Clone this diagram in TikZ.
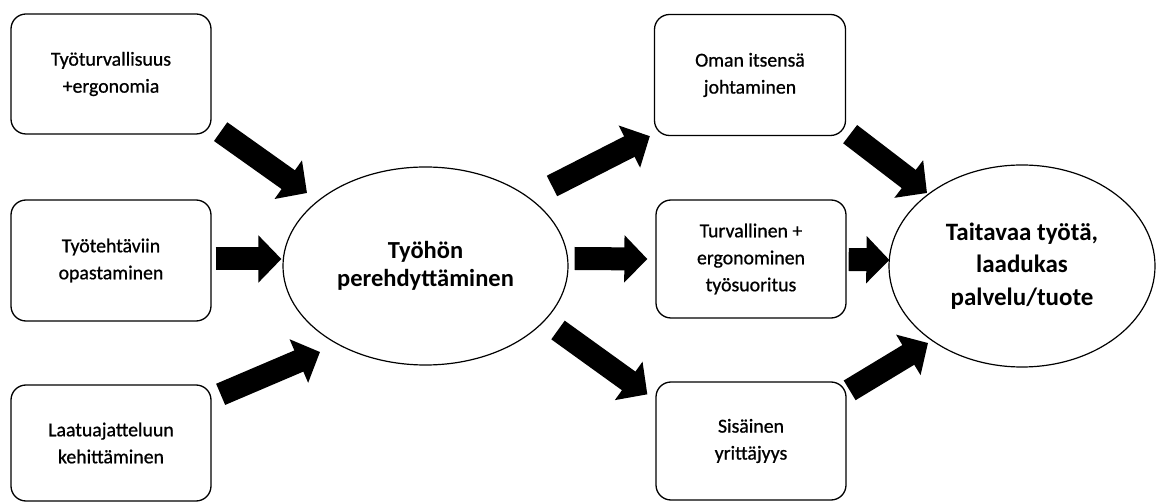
\documentclass[tikz,border=0pt]{standalone}
\usepackage{fontspec}
\setmainfont{Carlito}
\usetikzlibrary{arrows.meta,shapes.geometric,calc}
\begin{document}
\begin{tikzpicture}[x=1pt,y=-1pt,
  box/.style={draw, line width=1.3pt, rounded corners=15pt, align=center,
    inner sep=0pt, font=\fontsize{19.8}{27}\selectfont\addfontfeature{FakeBold=0.8}},
  oval/.style={draw, ellipse, line width=1.2pt, align=center, inner sep=0pt,
    font=\bfseries\fontsize{24.5}{28}\selectfont},
  blk/.style={line width=23pt, -{Triangle[width=46pt,length=23pt]}}]
\useasboundingbox (0,0) rectangle (1157,502);
\node[box, minimum width=200pt, minimum height=120pt] (b1) at (111,74) {Työturvallisuus\\+ergonomia};
\node[box, minimum width=200pt, minimum height=121pt] (b2) at (111,260.5) {Työtehtäviin\\opastaminen};
\node[box, minimum width=200pt, minimum height=116pt] (b3) at (111,443) {Laatuajatteluun\\kehittäminen};
\node[box, minimum width=191pt, minimum height=121pt] (o1) at (750,75) {Oman itsensä\\johtaminen};
\node[box, minimum width=190pt, minimum height=118pt] (o2) at (751,259) {Turvallinen +\\ergonominen\\työsuoritus};
\node[box, minimum width=190pt, minimum height=118pt] (o3) at (751,441) {Sisäinen\\yrittäjyys};
\node[oval, minimum width=285pt, minimum height=198pt] (e1) at (425.5,266) {Työhön\\perehdyttäminen};
\node[oval, minimum width=266pt, minimum height=202pt, font=\bfseries\fontsize{25}{32.5}\selectfont] (e2) at (1022,266) {Taitavaa työtä,\\laadukas\\palvelu/tuote};
\draw[blk] ($(b1.south east)+(9,-3)$) -- ($(e1.center)+(-118.5,-73)$);
\draw[blk] ($(b2.east)+(4,-1.5)$) -- ($(e1.west)+(-1,-7)$);
\draw[blk] ($(b3.north east)+(9,10)$) -- ($(e1.center)+(-105.5,86)$);
\draw[blk] ($(e1.center)+(126.5,-80)$) -- ($(o1.south west)+(-4,0)$);
\draw[blk] ($(e1.east)+(6,-7.5)$) -- ($(o2.west)+(-8,0)$);
\draw[blk] ($(e1.center)+(132.5,64)$) -- ($(o3.north west)+(-8,13)$);
\draw[blk] ($(o1.south east)+(4,-2)$) -- ($(e2.center)+(-95,-73)$);
\draw[blk] ($(o2.east)+(2,0.5)$) -- ($(e2.west)+(1,-6)$);
\draw[blk] ($(o3.north east)+(3,9)$) -- ($(e2.center)+(-94,77)$);
\end{tikzpicture}
\end{document}
